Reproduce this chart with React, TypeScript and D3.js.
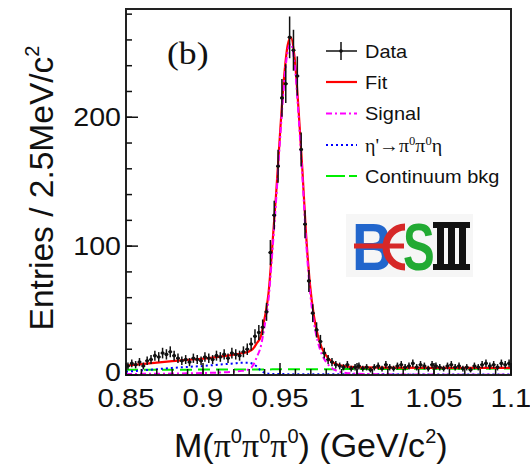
import React from "react";
import * as d3 from "d3";

// histogram: 100 bins of 2.5 MeV from 0.85 to 1.1 GeV
const binStart = 0.85;
const binWidth = 0.0025;
const counts = [
  7, 9, 8, 10, 7, 11, 12, 15, 14, 17,
  16, 18, 15, 13, 11, 12, 10, 13, 12, 11,
  14, 13, 12, 15, 14, 16, 13, 17, 16, 15,
  18, 20, 24, 30, 33, 37, 49, 95, 124, 162,
  215, 226, 262, 252, 232, 175, 117, 73, 48, 35,
  26, 17, 12, 10, 8, 7, 6, 8, 5, 6,
  7, 5, 6, 4, 6, 7, 5, 8, 6, 5,
  7, 8, 6, 7, 9, 6, 8, 7, 5, 8,
  7, 6, 5, 7, 8, 6, 7, 5, 6, 4,
  7, 6, 8, 9, 7, 8, 6, 9, 8, 9,
];

// fit components sampled along the mass axis
const curveMass = [
  0.85, 0.86, 0.87, 0.88, 0.89, 0.9, 0.91, 0.92, 0.925, 0.93, 0.9325, 0.935,
  0.9375, 0.94, 0.9425, 0.945, 0.9475, 0.95, 0.9525, 0.955, 0.957, 0.9595,
  0.962, 0.9645, 0.967, 0.9695, 0.972, 0.9745, 0.977, 0.98, 0.983, 0.987,
  0.992, 1.0, 1.02, 1.05, 1.08, 1.1,
];
const fitValues = [
  7.3, 8.4, 9.6, 10.7, 11.7, 12.7, 14.1, 15.8, 16.9, 18.3, 20.3, 24.8,
  29.8, 44, 63, 100, 141, 187, 229, 256, 262, 246,
  207, 160, 108, 70, 46, 31, 21.5, 15, 11, 8.2,
  6.9, 6.1, 5.7, 5.5, 5.5, 5.6,
];
const signalValues = [
  0.8, 0.9, 1.0, 1.1, 1.3, 1.5, 1.9, 2.6, 3.2, 4.5, 7.5, 14,
  22, 38, 58, 95, 136, 182, 224, 251, 257, 241,
  202, 155, 103, 65, 41, 26, 16.5, 10, 6, 3.2,
  1.8, 1.0, 0.5, 0.3, 0.2, 0.2,
];
const peakingValues = [
  2.5, 3.5, 4.5, 5.5, 6.3, 7.0, 8.0, 9.0, 9.5, 9.5, 8.5, 6.5,
  3.5, 1.8, 1.0, 0.8, 0.7, 0.7, 0.7, 0.6, 0.6, 0.6,
  0.6, 0.6, 0.6, 0.6, 0.6, 0.5, 0.5, 0.5, 0.5, 0.5,
  0.5, 0.5, 0.5, 0.4, 0.4, 0.4,
];
const continuumValues = [
  4.0, 4.0, 4.1, 4.1, 4.1, 4.2, 4.2, 4.2, 4.2, 4.3, 4.3, 4.3,
  4.3, 4.3, 4.3, 4.4, 4.4, 4.4, 4.4, 4.4, 4.4, 4.4,
  4.4, 4.5, 4.5, 4.5, 4.5, 4.5, 4.5, 4.5, 4.5, 4.5,
  4.6, 4.6, 4.7, 4.8, 4.9, 5.0,
];

const xTicks = [0.85, 0.9, 0.95, 1.0, 1.05, 1.1];
const xTickLabels = ["0.85", "0.9", "0.95", "1", "1.05", "1.1"];
const yTicks = [0, 100, 200];
const yTickLabels = ["0", "100", "200"];

const W = 530;
const H = 467;
const plot = { left: 126, right: 511, top: 9, bottom: 375 };
const sans = "'Liberation Sans', Arial, Helvetica, sans-serif";
const serif = "'Liberation Serif', 'Times New Roman', serif";

export default function App() {
  const x = d3.scaleLinear().domain([0.85, 1.1]).range([plot.left, plot.right]);
  const y = d3.scaleLinear().domain([0, 284]).range([plot.bottom, plot.top]);

  const makeLine = (vals: number[]) =>
    d3
      .line<number>()
      .x((_, i) => x(curveMass[i]))
      .y((d) => y(d))
      .curve(d3.curveMonotoneX)(vals) || "";

  const minorX = d3.range(0.85, 1.1001, 0.01);
  const minorY = d3.range(0, 281, 20);

  const legendRows = [51, 82, 113.5, 145, 176];
  const lgX0 = 326;
  const lgX1 = 357;
  const lgText = 365;

  return (
    <svg
      width={W}
      height={H}
      style={{ position: "absolute", left: 0, top: 0, background: "#fff" }}
    >
      <defs>
        <clipPath id="plotClip">
          <rect
            x={plot.left}
            y={plot.top}
            width={plot.right - plot.left}
            height={plot.bottom - plot.top}
          />
        </clipPath>
      </defs>

      {/* BESIII logo */}
      <g>
        <rect x={346} y={214} width={127} height={63} fill="#f6f6f6" />
        <text
          transform="translate(352,270) scale(0.85,1)"
          fontFamily={sans}
          fontWeight="bold"
          fontSize={66}
          fill="#2266cc"
        >
          B
        </text>
        <path
          d="M405,227 A19,20 0 1 0 405,267"
          fill="none"
          stroke="#d62828"
          strokeWidth={7}
        />
        <line x1={354} x2={404} y1={246} y2={246} stroke="#d62828" strokeWidth={5} />
        <text
          transform="translate(403,270) scale(0.72,1)"
          fontFamily={sans}
          fontWeight="bold"
          fontSize={66}
          fill="#22aa33"
        >
          S
        </text>
        <rect x={433} y={222} width={37} height={6} fill="#111" />
        <rect x={433} y={264} width={37} height={6} fill="#111" />
        <rect x={437} y={222} width={7} height={48} fill="#111" />
        <rect x={448} y={222} width={7} height={48} fill="#111" />
        <rect x={459} y={222} width={7} height={48} fill="#111" />
      </g>

      {/* fit curves */}
      <g clipPath="url(#plotClip)" fill="none">
        <path d={makeLine(continuumValues)} stroke="#00ee00" strokeWidth={2} strokeDasharray="12,6" />
        <path d={makeLine(peakingValues)} stroke="#0000ff" strokeWidth={2} strokeDasharray="2,3" />
        <path d={makeLine(fitValues)} stroke="#ff0000" strokeWidth={2.2} />
        <path d={makeLine(signalValues)} stroke="#ff00ff" strokeWidth={2} strokeDasharray="6,3,2,3" />
      </g>

      {/* data points */}
      <g clipPath="url(#plotClip)" stroke="#111" strokeWidth={1.5}>
        {counts.map((n, i) => {
          const m = binStart + (i + 0.5) * binWidth;
          const cx = x(m);
          const cy = y(n);
          const err = Math.sqrt(n);
          return (
            <g key={i}>
              <line x1={x(m - binWidth / 2)} x2={x(m + binWidth / 2)} y1={cy} y2={cy} />
              <line x1={cx} x2={cx} y1={y(n + err)} y2={y(Math.max(0, n - err))} />
              <circle cx={cx} cy={cy} r={1.8} fill="#111" stroke="none" />
            </g>
          );
        })}
      </g>

      {/* frame */}
      <rect
        x={plot.left}
        y={plot.top}
        width={plot.right - plot.left}
        height={plot.bottom - plot.top}
        fill="none"
        stroke="#222"
        strokeWidth={2}
      />

      {/* x ticks */}
      <g stroke="#111" strokeWidth={1.5}>
        {minorX.map((v, i) => (
          <line key={"mx" + i} x1={x(v)} x2={x(v)} y1={plot.bottom} y2={plot.bottom - 6} />
        ))}
        {xTicks.map((v, i) => (
          <line key={"Mx" + i} x1={x(v)} x2={x(v)} y1={plot.bottom} y2={plot.bottom - 12} />
        ))}
        {minorY.map((v, i) => (
          <line key={"my" + i} x1={plot.left} x2={plot.left + 6} y1={y(v)} y2={y(v)} />
        ))}
        {yTicks.map((v, i) => (
          <line key={"My" + i} x1={plot.left} x2={plot.left + 12} y1={y(v)} y2={y(v)} />
        ))}
      </g>

      {/* tick labels */}
      <g fontFamily={sans} fontSize={25.5} fill="#111">
        {xTicks.map((v, i) => (
          <text
            key={"xl" + i}
            transform={`translate(${x(v)},407) scale(1.15,1)`}
            textAnchor="middle"
          >
            {xTickLabels[i]}
          </text>
        ))}
        {yTicks.map((v, i) => (
          <text
            key={"yl" + i}
            transform={`translate(121,${y(v) + (i === 0 ? 6 : 9)}) scale(1.12,1)`}
            textAnchor="end"
          >
            {yTickLabels[i]}
          </text>
        ))}
      </g>

      {/* axis titles */}
      <text x={174} y={457} fontFamily={sans} fontSize={34} fill="#111">
        M(<tspan fontFamily={serif}>π</tspan>
        <tspan fontSize={20} dy={-14}>0</tspan>
        <tspan fontFamily={serif} dy={14}>π</tspan>
        <tspan fontSize={20} dy={-14}>0</tspan>
        <tspan fontFamily={serif} dy={14}>π</tspan>
        <tspan fontSize={20} dy={-14}>0</tspan>
        <tspan dy={14}>) (GeV/c</tspan>
        <tspan fontSize={20} dy={-14}>2</tspan>
        <tspan dy={14}>)</tspan>
      </text>
      <text
        transform="translate(53,188) rotate(-90)"
        textAnchor="middle"
        fontFamily={sans}
        fontSize={33.5}
        fill="#111"
      >
        Entries / 2.5MeV/c<tspan fontSize={20} dy={-14}>2</tspan>
      </text>

      {/* panel label */}
      <text
        transform="translate(167,64) scale(1.15,1)"
        fontFamily={serif}
        fontSize={31}
        fill="#111"
      >
        (b)
      </text>

      {/* legend */}
      <g>
        <line x1={lgX0} x2={lgX1} y1={legendRows[0]} y2={legendRows[0]} stroke="#111" strokeWidth={1.5} />
        <line x1={341} x2={341} y1={legendRows[0] - 9} y2={legendRows[0] + 9} stroke="#111" strokeWidth={1.5} />
        <circle cx={341} cy={legendRows[0]} r={1.8} fill="#111" />
        <line x1={lgX0} x2={lgX1} y1={legendRows[1]} y2={legendRows[1]} stroke="#ff0000" strokeWidth={2.2} />
        <line x1={lgX0} x2={lgX1} y1={legendRows[2]} y2={legendRows[2]} stroke="#ff00ff" strokeWidth={2} strokeDasharray="6,3,2,3" />
        <line x1={lgX0} x2={lgX1} y1={legendRows[3]} y2={legendRows[3]} stroke="#0000ff" strokeWidth={2} strokeDasharray="2,3" />
        <line x1={lgX0} x2={lgX1} y1={legendRows[4]} y2={legendRows[4]} stroke="#00ee00" strokeWidth={2} strokeDasharray="19,4" />
      </g>
      <g fontFamily={sans} fontSize={17.7} fill="#111">
        <text transform={`translate(${lgText},${legendRows[0] + 6.5}) scale(1.13,1)`}>Data</text>
        <text transform={`translate(${lgText},${legendRows[1] + 6.5}) scale(1.13,1)`}>Fit</text>
        <text transform={`translate(${lgText},${legendRows[2] + 6.5}) scale(1.13,1)`}>Signal</text>
        <text
          transform={`translate(${lgText},${legendRows[3] + 6.5}) scale(1.05,1)`}
          fontFamily={serif}
          fontSize={19}
        >
          η'→π<tspan fontSize={12} dy={-7}>0</tspan>
          <tspan dy={7}>π</tspan>
          <tspan fontSize={12} dy={-7}>0</tspan>
          <tspan dy={7}>η</tspan>
        </text>
        <text transform={`translate(${lgText},${legendRows[4] + 6.5}) scale(1.13,1)`}>
          Continuum bkg
        </text>
      </g>
    </svg>
  );
}
